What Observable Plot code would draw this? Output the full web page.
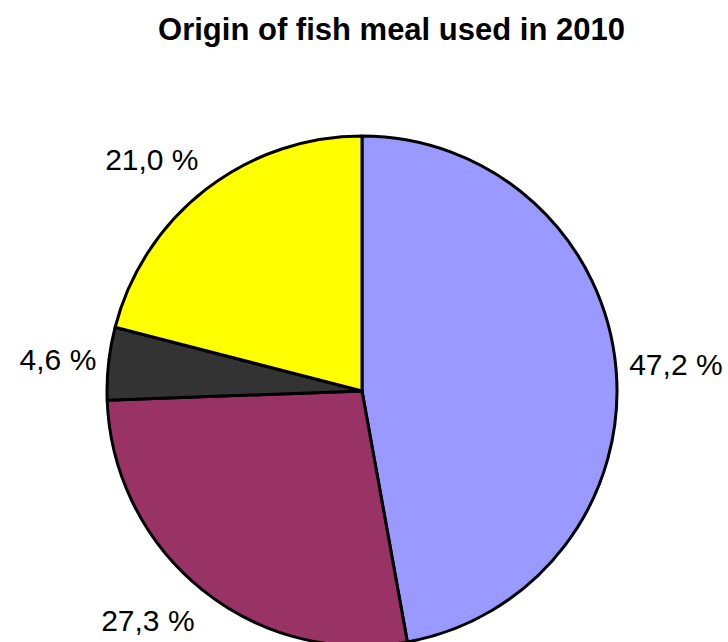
<!DOCTYPE html>
<html>
<head>
<meta charset="utf-8">
<script src="https://cdn.jsdelivr.net/npm/d3@7"></script>
<script src="https://cdn.jsdelivr.net/npm/@observablehq/plot@0.6"></script>
<style>
  html, body { margin: 0; padding: 0; background: #fff; }
</style>
</head>
<body>
<div id="chart"></div>
<script>
// ---- data ----
const title = "Origin of fish meal used in 2010";
const origins = ["Source A", "Source B", "Source C", "Source D"];
const shares = [47.2, 27.3, 4.6, 21.0];
const sliceColors = ["#9999FF", "#993366", "#333333", "#FFFF00"];

// ---- build ----
const data = origins.map((o, i) => ({origin: o, value: shares[i]}));
const color = d3.scaleOrdinal(origins, sliceColors);
const arcs = d3.pie().sort(null).value(d => d.value)(data);

const labelRadius = 1.05; // in units of pie radius
const labelPad = 10;      // extra vertical gap for labels above/below the pie
const labels = arcs.map(a => {
  const mid = (a.startAngle + a.endAngle) / 2;
  const s = Math.sin(mid), c = Math.cos(mid);
  const lineAnchor = c > 0.5 ? "bottom" : c < -0.5 ? "top" : "middle";
  return {
    x: labelRadius * s,
    y: labelRadius * c,
    text: a.data.value.toFixed(1).replace(".", ",") + " %",
    textAnchor: s > 0.2 ? "start" : s < -0.2 ? "end" : "middle",
    lineAnchor,
    dy: lineAnchor === "top" ? labelPad : lineAnchor === "bottom" ? -labelPad : -2
  };
});

function pieMark(index, scales) {
  const cx = scales.x(0), cy = scales.y(0);
  const r = Math.abs(scales.x(1) - scales.x(0));
  const arc = d3.arc().innerRadius(0).outerRadius(r);
  const g = d3.create("svg:g").attr("transform", `translate(${cx},${cy})`);
  g.selectAll("path")
    .data(arcs)
    .join("path")
    .attr("d", arc)
    .attr("fill", d => color(d.data.origin))
    .attr("stroke", "#000")
    .attr("stroke-width", 3)
    .attr("stroke-linejoin", "round");
  return g.node();
}

const W = 728, H = 642, R = 255, CX = 362, CY = 391;

const chart = Plot.plot({
  width: W,
  height: H,
  margin: 0,
  style: {fontFamily: "'Liberation Sans', Arial, Helvetica, sans-serif", background: "#fff", overflow: "visible"},
  x: {type: "linear", domain: [-CX / R, (W - CX) / R], range: [0, W], axis: null},
  y: {type: "linear", domain: [-(H - CY) / R, CY / R], range: [H, 0], axis: null},
  marks: [
    pieMark,
    ...labels.map(d => Plot.text([d], {
      x: "x", y: "y", text: "text",
      textAnchor: d.textAnchor, lineAnchor: d.lineAnchor, dy: d.dy,
      fontSize: 30, fill: "#000"
    })),
    Plot.text([title], {
      frameAnchor: "top", lineAnchor: "top", dx: 27, dy: 17,
      fontSize: 31, fontWeight: "bold", fill: "#000"
    })
  ]
});
document.getElementById("chart").append(chart);
</script>
</body>
</html>
